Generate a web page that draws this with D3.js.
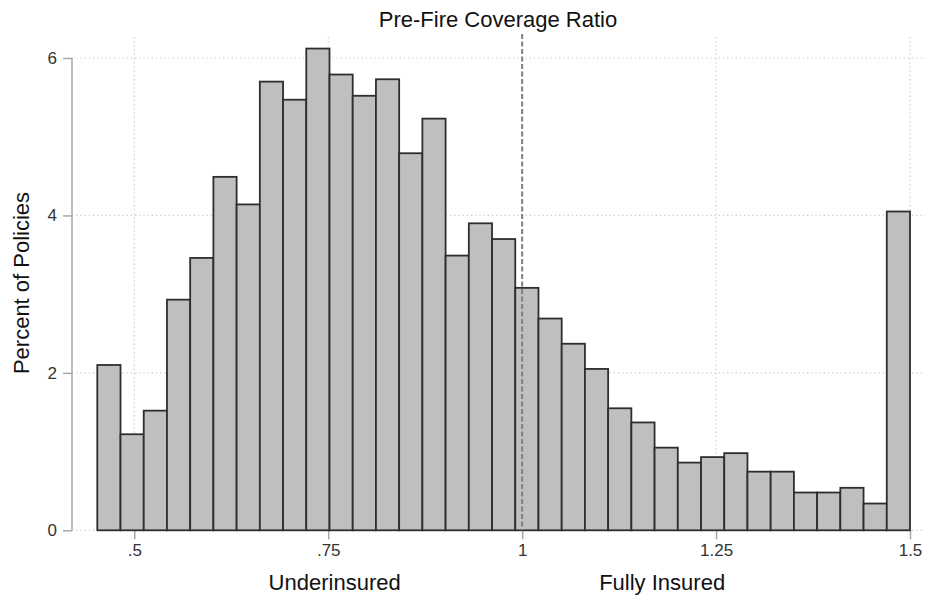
<!DOCTYPE html>
<html>
<head>
<meta charset="utf-8">
<script src="https://cdn.jsdelivr.net/npm/d3@7"></script>
<style>
  html, body { margin: 0; padding: 0; background: #fff; }
  svg { display: block; font-family: "Liberation Sans", Arial, sans-serif; }
</style>
</head>
<body>
<svg id="chart" width="925" height="598"></svg>
<script>
// ---- data ----
const binStart = 0.4523;
const binEnd = 1.5;
const percents = [2.10, 1.22, 1.52, 2.93, 3.46, 4.49, 4.14, 5.70, 5.47, 6.12,
                  5.79, 5.52, 5.73, 4.79, 5.23, 3.49, 3.90, 3.70, 3.08, 2.69,
                  2.37, 2.05, 1.55, 1.37, 1.05, 0.86, 0.93, 0.98, 0.745, 0.745,
                  0.48, 0.48, 0.54, 0.34, 4.05];
const xTicks = [0.5, 0.75, 1, 1.25, 1.5];
const xTickLabels = [".5", ".75", "1", "1.25", "1.5"];
const yTicks = [0, 2, 4, 6];
const refLine = 1;
const title = "Pre-Fire Coverage Ratio";
const yTitle = "Percent of Policies";
const xNotes = [{x: 0.7583, text: "Underinsured"}, {x: 1.1805, text: "Fully Insured"}];

// ---- chart ----
const svg = d3.select("#chart");
const x = d3.scaleLinear().domain([0.5, 1.5]).range([134.3, 910]);
const y = d3.scaleLinear().domain([0, 6]).range([530.3, 58]);
const binW = (binEnd - binStart) / percents.length;
const bins = percents.map((v, i) => ({x0: binStart + i * binW, x1: binStart + (i + 1) * binW, v}));

const axisX = 72;
const gridColor = "#c8c8c8";

// horizontal grid
svg.append("g").selectAll("line").data(yTicks).join("line")
  .attr("x1", axisX).attr("x2", 925)
  .attr("y1", d => y(d)).attr("y2", d => y(d))
  .attr("stroke", gridColor).attr("stroke-width", 1.2)
  .attr("stroke-dasharray", "1.2,3");

// vertical grid
svg.append("g").selectAll("line").data(xTicks.filter(d => d !== refLine)).join("line")
  .attr("x1", d => x(d)).attr("x2", d => x(d))
  .attr("y1", 37).attr("y2", y(0))
  .attr("stroke", gridColor).attr("stroke-width", 1.2)
  .attr("stroke-dasharray", "1.2,3");

// y axis
const yAxis = d3.axisLeft(y).tickValues(yTicks).tickFormat(d3.format("d")).tickSize(9).tickPadding(6);
const gy = svg.append("g").attr("transform", `translate(${axisX},0)`).call(yAxis);
gy.select(".domain").attr("stroke", "#a8a8a8").attr("stroke-width", 1.5).attr("d", `M0,${y(6)}V${y(0)}`);
gy.selectAll(".tick line").attr("stroke", "#a8a8a8").attr("stroke-width", 1.5);
gy.selectAll(".tick text").attr("font-size", 17).attr("fill", "#333").attr("font-family", "Liberation Sans, Arial, sans-serif");

// x axis
const xAxis = d3.axisBottom(x).tickValues(xTicks).tickFormat((d, i) => xTickLabels[i]).tickSize(9).tickPadding(5);
const gx = svg.append("g").attr("transform", `translate(0,${y(0)})`).call(xAxis);
gx.select(".domain").attr("stroke", "#a8a8a8").attr("stroke-width", 1.5).attr("d", `M${x(0.5)},0H${x(1.5)}`);
gx.selectAll(".tick line").attr("stroke", "#a8a8a8").attr("stroke-width", 1.5);
gx.selectAll(".tick text").attr("font-size", 17).attr("fill", "#333").attr("font-family", "Liberation Sans, Arial, sans-serif");

// bars
svg.append("g").selectAll("rect").data(bins).join("rect")
  .attr("x", d => x(d.x0))
  .attr("width", d => x(d.x1) - x(d.x0))
  .attr("y", d => y(d.v))
  .attr("height", d => y(0) - y(d.v))
  .attr("fill", "#bfbfbf")
  .attr("stroke", "#2e2e2e")
  .attr("stroke-width", 1.8);

// reference line at 1
svg.append("line")
  .attr("x1", x(refLine)).attr("x2", x(refLine))
  .attr("y1", 34).attr("y2", y(0))
  .attr("stroke", "#808080").attr("stroke-width", 2)
  .attr("stroke-dasharray", "5,2.5");

// title
svg.append("text").attr("x", 498).attr("y", 27).attr("text-anchor", "middle")
  .attr("font-size", 22).attr("fill", "#111").text(title);

// y title
svg.append("text").attr("transform", `translate(29,283) rotate(-90)`).attr("text-anchor", "middle")
  .attr("font-size", 22).attr("fill", "#111").text(yTitle);

// x notes
svg.append("g").selectAll("text").data(xNotes).join("text")
  .attr("x", d => x(d.x)).attr("y", 590).attr("text-anchor", "middle")
  .attr("font-size", 22).attr("fill", "#111").text(d => d.text);
</script>
</body>
</html>
